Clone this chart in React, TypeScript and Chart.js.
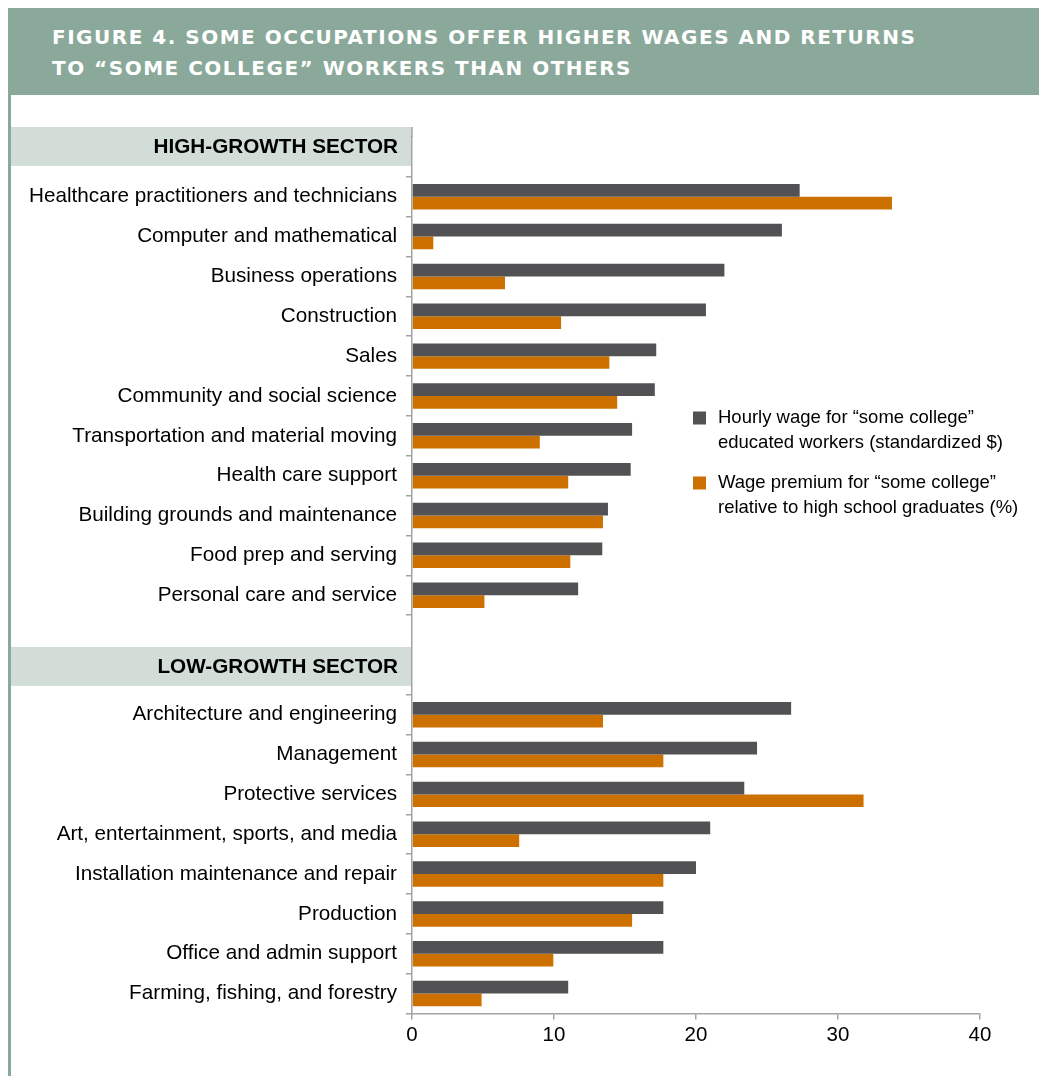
import { useEffect, useRef } from "react";
import { Chart, registerables } from "chart.js";

Chart.register(...registerables);

const titleLines = [
  "FIGURE 4. SOME OCCUPATIONS OFFER HIGHER WAGES AND RETURNS",
  "TO “SOME COLLEGE” WORKERS THAN OTHERS",
];

const sectorHeaders = ["HIGH-GROWTH SECTOR", "LOW-GROWTH SECTOR"];

const highGrowthOccupations = [
  "Healthcare practitioners and technicians",
  "Computer and mathematical",
  "Business operations",
  "Construction",
  "Sales",
  "Community and social science",
  "Transportation and material moving",
  "Health care support",
  "Building grounds and maintenance",
  "Food prep and serving",
  "Personal care and service",
];
const highGrowthWage = [27.3, 26.05, 22.0, 20.7, 17.2, 17.1, 15.5, 15.4, 13.8, 13.4, 11.7];
const highGrowthPremium = [33.8, 1.5, 6.55, 10.5, 13.9, 14.45, 9.0, 11.0, 13.45, 11.15, 5.1];

const lowGrowthOccupations = [
  "Architecture and engineering",
  "Management",
  "Protective services",
  "Art, entertainment, sports, and media",
  "Installation maintenance and repair",
  "Production",
  "Office and admin support",
  "Farming, fishing, and forestry",
];
const lowGrowthWage = [26.7, 24.3, 23.4, 21.0, 20.0, 17.7, 17.7, 11.0];
const lowGrowthPremium = [13.45, 17.7, 31.8, 7.55, 17.7, 15.5, 9.95, 4.9];

const seriesLabels = [
  ["Hourly wage for “some college”", "educated workers (standardized $)"],
  ["Wage premium for “some college”", "relative to high school graduates (%)"],
];
const seriesColors = ["#525254", "#cc7000"];

const xTicks = [0, 10, 20, 30, 40];

// Row slots: one header slot, the high-growth rows, two spacer slots, the low-growth rows
const rowLabels = ["", ...highGrowthOccupations, "", "", ...lowGrowthOccupations];
const wageRows = [null, ...highGrowthWage, null, null, ...lowGrowthWage];
const premiumRows = [null, ...highGrowthPremium, null, null, ...lowGrowthPremium];
const lowHeaderSlot = highGrowthOccupations.length + 1;
const hiddenTickLines = new Set([0, lowHeaderSlot + 1]);

const LABEL_FONT = "Liberation Sans, Arial, sans-serif";
const AXIS_GREY = "#a3a3a3";
const BAND_FILL = "#d2ddd7";
const FRAME_GREEN = "#8ba99b";

const sectorPlugin = {
  id: "sectorBands",
  beforeDraw(chart: any) {
    const { ctx, chartArea } = chart;
    const y = chart.scales.y;
    const half = (y.getPixelForValue(1) - y.getPixelForValue(0)) / 2;
    const bandTops = [
      y.getPixelForValue(0) - half - 10,
      y.getPixelForValue(lowHeaderSlot) + half - 8,
    ];
    ctx.save();
    bandTops.forEach((top: number, i: number) => {
      ctx.fillStyle = BAND_FILL;
      ctx.fillRect(0, top, chartArea.left, 39);
      ctx.fillStyle = "#000";
      ctx.font = `bold 20.7px ${LABEL_FONT}`;
      ctx.textAlign = "right";
      ctx.textBaseline = "middle";
      ctx.fillText(sectorHeaders[i], chartArea.left - 14, top + 20);
    });
    // axis line continues up past the first header band
    ctx.strokeStyle = AXIS_GREY;
    ctx.lineWidth = 1.5;
    ctx.beginPath();
    ctx.moveTo(chartArea.left, bandTops[0]);
    ctx.lineTo(chartArea.left, chartArea.top);
    ctx.stroke();
    ctx.restore();
  },
  afterDraw(chart: any) {
    const { ctx } = chart;
    const x0 = 682;
    const tops = [316.5, 381.5];
    ctx.save();
    ctx.font = `18.5px ${LABEL_FONT}`;
    ctx.textAlign = "left";
    ctx.textBaseline = "middle";
    tops.forEach((top, i) => {
      ctx.fillStyle = seriesColors[i];
      ctx.fillRect(x0, top, 13, 13);
      ctx.fillStyle = "#000";
      seriesLabels[i].forEach((line, j) => {
        ctx.fillText(line, x0 + 25, top + 6 + j * 25);
      });
    });
    ctx.restore();
  },
};

function FigureChart() {
  const canvasRef = useRef<HTMLCanvasElement | null>(null);

  useEffect(() => {
    const canvas = canvasRef.current;
    if (!canvas) return;
    const chart = new Chart(canvas, {
      type: "bar",
      data: {
        labels: rowLabels,
        datasets: [
          {
            label: seriesLabels[0].join(" "),
            data: wageRows,
            backgroundColor: seriesColors[0],
            borderWidth: 0,
          },
          {
            label: seriesLabels[1].join(" "),
            data: premiumRows,
            backgroundColor: seriesColors[1],
            borderWidth: 0,
          },
        ],
      },
      options: {
        indexAxis: "y",
        responsive: false,
        animation: false,
        devicePixelRatio: 1,
        layout: { padding: { top: 42, right: 59, bottom: 17.5, left: 0 } },
        datasets: {
          bar: { categoryPercentage: 0.64, barPercentage: 1.0 },
        },
        plugins: {
          legend: { display: false },
          title: { display: false },
          tooltip: { enabled: false },
        },
        scales: {
          x: {
            type: "linear",
            min: xTicks[0],
            max: xTicks[xTicks.length - 1],
            afterBuildTicks: (s: any) => {
              s.ticks = xTicks.map((v) => ({ value: v }));
            },
            afterFit: (s: any) => {
              s.height = 45;
            },
            ticks: {
              color: "#000",
              padding: 4,
              font: { family: LABEL_FONT, size: 20.5 },
            },
            grid: {
              drawOnChartArea: false,
              tickLength: 6,
              color: AXIS_GREY,
              lineWidth: 1.5,
            },
            border: { color: AXIS_GREY, width: 1.5 },
          },
          y: {
            type: "category",
            offset: true,
            afterFit: (s: any) => {
              s.width = 401;
            },
            ticks: {
              autoSkip: false,
              color: "#000",
              padding: 9,
              font: { family: LABEL_FONT, size: 20.7 },
            },
            grid: {
              offset: true,
              drawOnChartArea: false,
              tickLength: 6,
              lineWidth: 1.5,
              color: (c: any) => (hiddenTickLines.has(c.index) ? "rgba(0,0,0,0)" : AXIS_GREY),
            },
            border: { color: AXIS_GREY, width: 1.5 },
          },
        },
      },
      plugins: [sectorPlugin],
    });
    return () => chart.destroy();
  }, []);

  return <canvas ref={canvasRef} width={1028} height={981} style={{ display: "block" }} />;
}

export default function App() {
  return (
    <div
      style={{
        position: "fixed",
        left: 8,
        top: 8,
        width: 1031,
        height: 1068,
        background: "#fff",
      }}
    >
      <div
        style={{
          height: 87,
          background: FRAME_GREEN,
          boxSizing: "border-box",
          paddingLeft: 44,
          paddingTop: 14,
          color: "#fff",
          fontFamily: "DejaVu Sans, Verdana, sans-serif",
          fontWeight: "bold",
          fontSize: 20,
          lineHeight: "31px",
          letterSpacing: "1.5px",
          whiteSpace: "nowrap",
        }}
      >
        {titleLines.map((t) => (
          <div key={t}>{t}</div>
        ))}
      </div>
      <div style={{ borderLeft: `3px solid ${FRAME_GREEN}`, height: 981 }}>
        <FigureChart />
      </div>
    </div>
  );
}
